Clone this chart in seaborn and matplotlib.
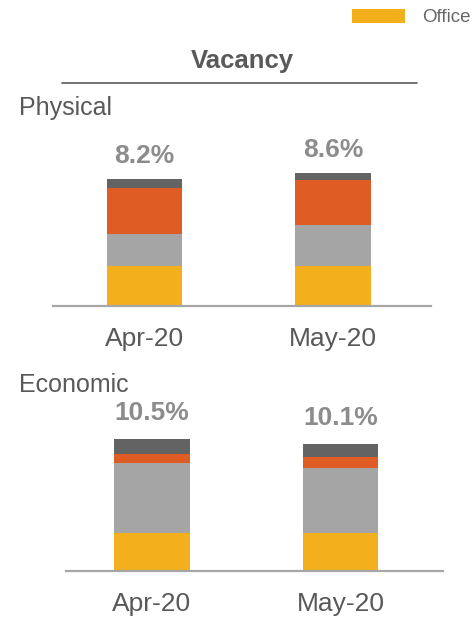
import numpy as np
import seaborn as sns
import matplotlib.pyplot as plt
from matplotlib.lines import Line2D

sns.set_style('white')
plt.rcParams['font.family'] = ['Liberation Sans', 'DejaVu Sans']

# data (percent of stock)
months = ['Apr-20', 'May-20']
phys_office = [2.58, 2.59]
phys_seg2 = [2.06, 2.65]
phys_seg3 = [2.97, 2.91]
phys_seg4 = [0.59, 0.45]
phys_total = [8.2, 8.6]

econ_office = [3.02, 3.02]
econ_seg2 = [5.57, 5.17]
econ_seg3 = [0.72, 0.87]
econ_seg4 = [1.19, 1.04]
econ_total = [10.5, 10.1]

colors = ['#F4AF1C', '#A5A5A5', '#E05C25', '#636363']
txt_dark = '#595959'
txt_pct = '#8C8C8C'

fig = plt.figure(figsize=(4.75, 6.17), dpi=100)
W, H = 475, 617
ax1 = fig.add_axes([53 / W, 1 - 306 / H, 378 / W, 176 / H])
ax2 = fig.add_axes([66 / W, 1 - 571 / H, 377 / W, 171 / H])


def stacked(ax, segs, totals, ytop, xlim, pad):
    cum = np.cumsum(np.array(segs), axis=0)
    # draw the tallest stack first, smaller ones on top
    for k in range(len(segs) - 1, -1, -1):
        sns.barplot(x=months, y=cum[k], color=colors[k], saturation=1,
                    width=0.4, linewidth=0, ax=ax,
                    label='Office' if k == 0 else None)
    ax.bar_label(ax.containers[0], labels=[f'{v}%' for v in totals],
                 padding=pad, fontsize=19, fontweight='bold', color=txt_pct)
    if ax.get_legend() is not None:
        ax.get_legend().remove()
    ax.set_ylim(0, ytop)
    ax.set_xlim(*xlim)
    ax.set_yticks([])
    ax.set_ylabel('')
    for s in ['top', 'left', 'right']:
        ax.spines[s].set_visible(False)
    ax.spines['bottom'].set_color('#A6A6A6')
    ax.spines['bottom'].set_linewidth(1.6)
    ax.tick_params(axis='x', length=0, pad=15, labelsize=19, colors=txt_dark)


stacked(ax1, [phys_office, phys_seg2, phys_seg3, phys_seg4], phys_total,
        176 / 15.5, (-0.485, 1.52), 8)
stacked(ax2, [econ_office, econ_seg2, econ_seg3, econ_seg4], econ_total,
        171 / 12.57, (-0.456, 1.544), 10)

# title with underline
fig.text(242 / W, 1 - 68 / H, 'Vacancy', ha='center', va='baseline',
         fontsize=18.5, fontweight='bold', color=txt_dark)
fig.add_artist(Line2D([62 / W, 417 / W], [1 - 83 / H, 1 - 83 / H],
                      color='#5A5A5A', linewidth=1.2))

fig.text(19 / W, 1 - 115 / H, 'Physical', va='baseline', fontsize=18,
         color=txt_dark)
fig.text(19 / W, 1 - 392 / H, 'Economic', va='baseline', fontsize=18,
         color=txt_dark)

# legend only for the office segment, top right
handles, labels = ax1.get_legend_handles_labels()
leg = ax1.legend(handles[:1], labels[:1], loc='upper left',
                 bbox_to_anchor=(352 / W, 1 - 9 / H),
                 bbox_transform=fig.transFigure, frameon=False,
                 fontsize=13.5, handlelength=2.8, handleheight=0.75,
                 handletextpad=0.95, borderpad=0, borderaxespad=0)
for t in leg.get_texts():
    t.set_color('#666666')

fig.savefig('out.png', dpi=100)
